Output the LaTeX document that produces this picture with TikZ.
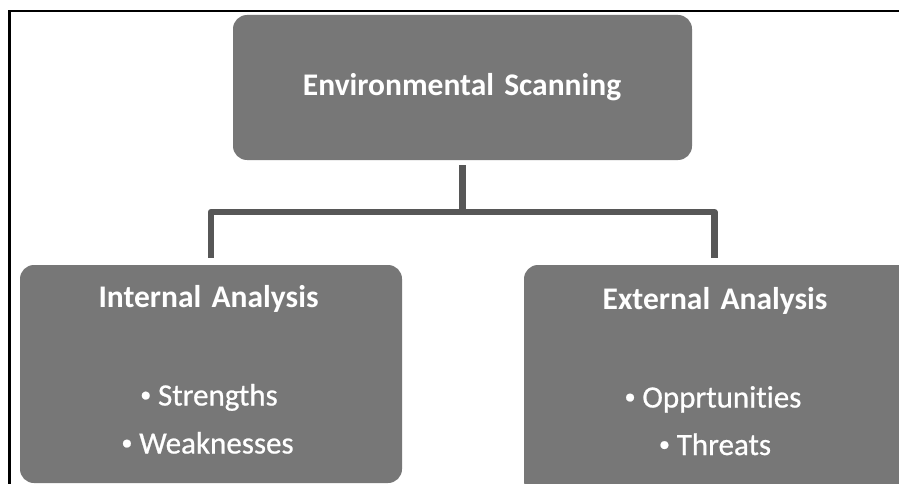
\documentclass[tikz,border=0pt]{standalone}
\usepackage{fontspec}
\setmainfont{Carlito}[Ligatures=NoCommon]
\definecolor{boxgray}{HTML}{777777}
\definecolor{linegray}{HTML}{575757}
\newcommand{\smallbul}{\raisebox{0.12em}{\fontsize{22}{22}\selectfont •}\hspace{0.22em}}
\begin{document}
\begin{tikzpicture}[x=1pt,y=-1pt,
  card/.style={fill=boxgray, draw=none, rounded corners=14pt, inner sep=0pt},
  head/.style={text=white, font=\fontsize{31.5}{36}\selectfont\bfseries, anchor=base, inner sep=0pt},
  item/.style={text=white, font=\fontsize{31}{36}\selectfont\addfontfeature{FakeBold=0.7}, anchor=base, inner sep=0pt},
  conn/.style={draw=linegray, line width=6.5pt, line join=round}]
\useasboundingbox (0,0) rectangle (899,484);
\clip (0,0) rectangle (899,484);
\fill[white] (0,0) rectangle (899,484);
% frame
\draw[black, line width=2.5pt] (9.5,484) -- (9.5,11) -- (899,11);
% boxes
\node[card, minimum width=459pt, minimum height=145pt] (top) at (462.5,87.5) {};
\node[card, minimum width=382pt, minimum height=218pt] (left) at (211,374) {};
\node[card, minimum width=410pt, minimum height=230pt] (right) at (729,380) {};
% texts
\node[head] (t1) at (462,96) {Environmental\hspace{0.1em} Scanning};
\node[head] (t2) at (208.5,307) {Internal\hspace{0.1em} Analysis};
\node[item] (t3) at (209,405.5) {\smallbul Strengths};
\node[item] (t4) at (207.5,453.5) {\smallbul Weaknesses};
\node[head] (t5) at (715,309) {External\hspace{0.1em} Analysis};
\node[item] (t6) at (713,407.5) {\smallbul Opprtunities};
\node[item] (t7) at (715,455) {\smallbul Threats};
% connectors
\coordinate (j) at (462.5,212);
\coordinate (rdrop) at (714.3,258);
\draw[conn] ([yshift=-5pt]top.south) -- (top.south |- j);
\draw[conn] ([yshift=7pt]left.north) |- (rdrop |- j) -- (rdrop);
\end{tikzpicture}
\end{document}
